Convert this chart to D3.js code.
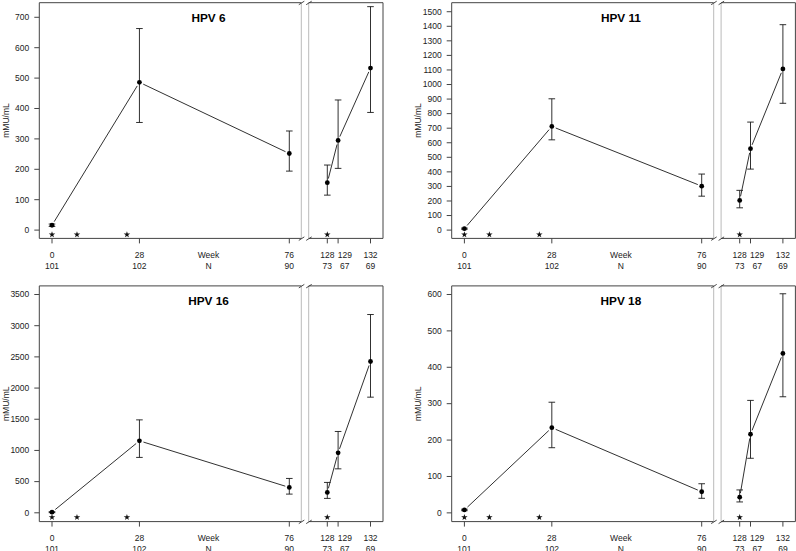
<!DOCTYPE HTML>
<html>
<head>
<meta charset="utf-8">
<title>HPV GMT</title>
<style>
body { margin: 0; background: #fff; }
svg text { font-family: "Liberation Sans", Arial, Helvetica, sans-serif; fill: #222; }
</style>
</head>
<body>
<div id="chart"></div>
<script src="https://cdnjs.cloudflare.com/ajax/libs/d3/7.8.5/d3.min.js"></script>
<script>
// data
var titles = ["HPV 6", "HPV 11", "HPV 16", "HPV 18"];
var weeks = [0, 28, 76, 128, 129, 132];
var nLabels = [101, 102, 90, 73, 67, 69];
var starWeeks = [0, 8, 24, 128];

var gmt6  = [16, 486, 252, 156, 295, 533];
var lo6   = [12, 354, 194, 115, 203, 387];
var hi6   = [20, 663, 326, 214, 428, 735];

var gmt11 = [10, 712, 302, 204, 559, 1107];
var lo11  = [6, 620, 233, 153, 419, 871];
var hi11  = [14, 902, 385, 273, 742, 1411];

var gmt16 = [10, 1154, 407, 327, 962, 2426];
var lo16  = [2, 888, 300, 231, 705, 1854];
var hi16  = [18, 1490, 551, 487, 1304, 3179];

var gmt18 = [8, 234, 58, 43, 216, 438];
var lo18  = [6, 179, 40, 30, 150, 319];
var hi18  = [10, 304, 80, 63, 309, 602];

var yTicks6  = d3.range(0, 701, 100);
var yTicks11 = d3.range(0, 1501, 100);
var yTicks16 = d3.range(0, 3501, 500);
var yTicks18 = d3.range(0, 601, 100);

var panels = [
	{title: titles[0], gmt: gmt6,  lo: lo6,  hi: hi6,  ticks: yTicks6,  dom: [-27.3, 748]},
	{title: titles[1], gmt: gmt11, lo: lo11, hi: hi11, ticks: yTicks11, dom: [-57, 1562]},
	{title: titles[2], gmt: gmt16, lo: lo16, hi: hi16, ticks: yTicks16, dom: [-141, 3638]},
	{title: titles[3], gmt: gmt18, lo: lo18, hi: hi18, ticks: yTicks18, dom: [-24, 623.6]}
];

var svg = d3.select("#chart")
			.append("svg")
			.attr("width", 796)
			.attr("height", 551);

// box geometry (same in each panel)
var bx0 = 39.3, bx1 = 383, by0 = 2.7, by1 = 238.4;
var gap0 = 301.3, gap1 = 308.7;

var xL = d3.scaleLinear().domain([0, 76]).range([52, 289.3]);
var xR = d3.scaleLinear().domain([128, 132]).range([327.3, 370.5]);
function xw(w) { return w < 100 ? xL(w) : xR(w); }

// label positions: push a label right when it would run into the previous one
var labelX = [];
weeks.forEach(function(w, i) {
	var x = xw(w);
	if (i > 0 && x - labelX[i - 1] < 17.5) x = labelX[i - 1] + 17.5;
	labelX.push(x);
});

var ink = "#1a1a1a";

panels.forEach(function(p, k) {
	var ox = (k % 2) * 412.4, oy = Math.floor(k / 2) * 283.2;
	var g = svg.append("g").attr("transform", "translate(" + ox + "," + oy + ")");
	var y = d3.scaleLinear().domain(p.dom).range([by1, by0]);

	// frame with break
	var frame = [
		[bx0, by0, gap0, by0], [gap1, by0, bx1, by0],
		[bx0, by1, gap0, by1], [gap1, by1, bx1, by1],
		[bx0, by0, bx0, by1], [bx1, by0, bx1, by1]
	];
	g.selectAll("line.frame").data(frame).enter().append("line")
		.attr("x1", function(d){ return d[0]; }).attr("y1", function(d){ return d[1]; })
		.attr("x2", function(d){ return d[2]; }).attr("y2", function(d){ return d[3]; })
		.attr("stroke", "#444").attr("stroke-width", 1);
	[gap0, gap1].forEach(function(gx) {
		g.append("line").attr("x1", gx).attr("x2", gx).attr("y1", by0).attr("y2", by1)
			.attr("stroke", "#bbb").attr("stroke-width", 1);
		[by0, by1].forEach(function(yy) {
			g.append("line").attr("x1", gx - 2.5).attr("y1", yy + 2).attr("x2", gx + 3).attr("y2", yy - 1.5)
				.attr("stroke", "#333").attr("stroke-width", 0.9);
		});
	});

	// y axis
	var yt = g.selectAll("g.yt").data(p.ticks).enter().append("g")
		.attr("transform", function(d){ return "translate(0," + y(d) + ")"; });
	yt.append("line").attr("x1", bx0 - 5).attr("x2", bx0).attr("stroke", "#444");
	yt.append("text").attr("x", bx0 - 10).attr("dy", "0.33em")
		.attr("text-anchor", "end").attr("font-size", "8.5px").text(function(d){ return d; });

	g.append("text")
		.attr("transform", "translate(8.6," + ((by0 + by1) / 2) + ") rotate(-90)")
		.attr("text-anchor", "middle").attr("font-size", "8.5px").text("mMU/mL");

	// x axis
	g.selectAll("line.xt").data(weeks).enter().append("line")
		.attr("x1", function(d){ return xw(d); }).attr("x2", function(d){ return xw(d); })
		.attr("y1", by1).attr("y2", by1 + 5).attr("stroke", "#444");
	g.selectAll("text.wk").data(weeks).enter().append("text")
		.attr("x", function(d, i){ return labelX[i]; }).attr("y", 258.2)
		.attr("text-anchor", "middle").attr("font-size", "8.5px")
		.text(function(d){ return d; });
	g.selectAll("text.nn").data(nLabels).enter().append("text")
		.attr("x", function(d, i){ return labelX[i]; }).attr("y", 268.5)
		.attr("text-anchor", "middle").attr("font-size", "8.5px")
		.text(function(d){ return d; });
	g.append("text").attr("x", 208.5).attr("y", 258.2).attr("text-anchor", "middle")
		.attr("font-size", "8.5px").text("Week");
	g.append("text").attr("x", 208.5).attr("y", 268.5).attr("text-anchor", "middle")
		.attr("font-size", "8.5px").text("N");

	// title
	g.append("text").attr("x", 208.5).attr("y", 21.7).attr("text-anchor", "middle")
		.attr("font-size", "11.8px").attr("font-weight", "bold").style("fill", "#000")
		.text(p.title);

	// connecting lines (two runs, with gaps at points)
	var pts = weeks.map(function(w, i){ return [xw(w), y(p.gmt[i])]; });
	var segs = [[0,1],[1,2],[3,4],[4,5]];
	segs.forEach(function(s) {
		var a = pts[s[0]], b = pts[s[1]];
		var dx = b[0] - a[0], dy = b[1] - a[1], len = Math.sqrt(dx*dx + dy*dy);
		var gp = 4.2;
		if (len <= 2 * gp) return;
		g.append("line")
			.attr("x1", a[0] + dx / len * gp).attr("y1", a[1] + dy / len * gp)
			.attr("x2", b[0] - dx / len * gp).attr("y2", b[1] - dy / len * gp)
			.attr("stroke", ink).attr("stroke-width", 0.9);
	});

	// error bars
	var eb = g.selectAll("g.eb").data(weeks).enter().append("g");
	eb.append("line")
		.attr("x1", function(d){ return xw(d); }).attr("x2", function(d){ return xw(d); })
		.attr("y1", function(d, i){ return y(p.lo[i]); }).attr("y2", function(d, i){ return y(p.hi[i]); })
		.attr("stroke", ink).attr("stroke-width", 0.9);
	["lo", "hi"].forEach(function(key) {
		eb.append("line")
			.attr("x1", function(d){ return xw(d) - 3.3; }).attr("x2", function(d){ return xw(d) + 3.3; })
			.attr("y1", function(d, i){ return y(p[key][i]); }).attr("y2", function(d, i){ return y(p[key][i]); })
			.attr("stroke", ink).attr("stroke-width", 0.9);
	});
	eb.append("circle")
		.attr("cx", function(d){ return xw(d); })
		.attr("cy", function(d, i){ return y(p.gmt[i]); })
		.attr("r", 2.4).attr("fill", "#000");

	// significance stars just under zero
	g.selectAll("path.star").data(starWeeks).enter().append("path")
		.attr("d", d3.symbol().type(d3.symbolStar).size(13))
		.attr("transform", function(d){ return "translate(" + xw(d) + "," + (y(0) + 4.5) + ")"; })
		.attr("fill", "#111");
});
</script>
</body>
</html>
